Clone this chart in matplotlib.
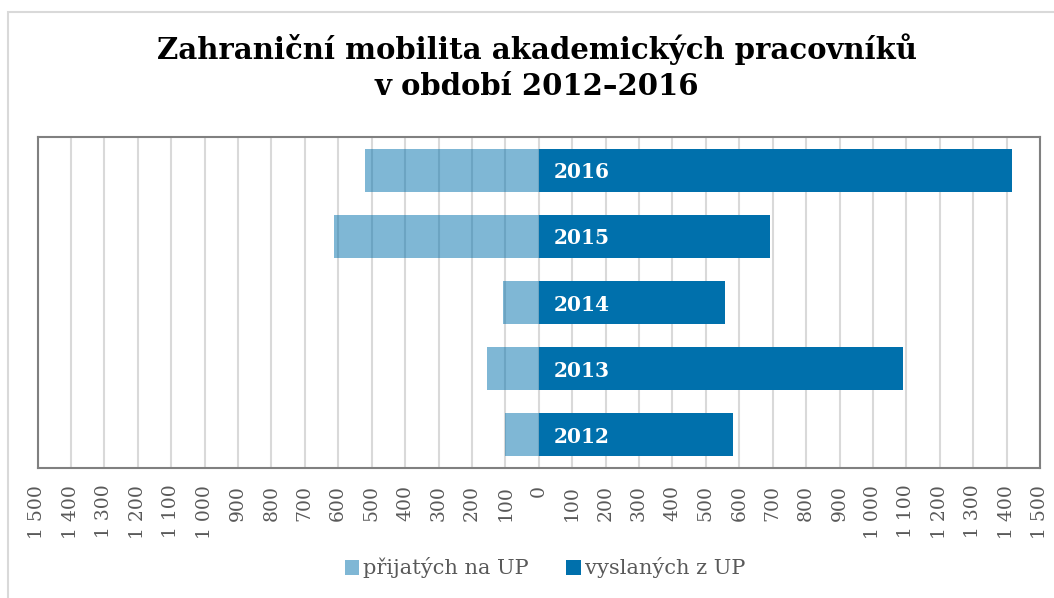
import matplotlib
matplotlib.use("Agg")
import matplotlib.pyplot as plt
from matplotlib.patches import Rectangle

years = ["2012", "2013", "2014", "2015", "2016"]
prijatych = [100, 154, 107, 614, 520]
vyslanych = [580, 1090, 558, 692, 1416]
tick_values = list(range(-1500, 1501, 100))
tick_labels = [f"{abs(v):,}".replace(",", " ") for v in tick_values]

dark = "#0070AC"
serif = ["DejaVu Serif"]

fig = plt.figure(figsize=(10.54, 5.98), dpi=100)
ax = fig.add_axes([37.5 / 1054, 1 - 468 / 598, (1040 - 37.5) / 1054, (468 - 137) / 598])

fig.patches.append(Rectangle((8 / 1054, -0.1), 1.2, 1 - 12 / 598 + 0.1, transform=fig.transFigure,
                             fill=False, edgecolor="#d9d9d9", linewidth=1.5))

ypos = list(range(len(years)))
ax.barh(ypos, [-v for v in prijatych], height=0.65, color=dark, alpha=0.5, zorder=3,
        label="přijatých na UP")
ax.barh(ypos, vyslanych, height=0.65, color=dark, zorder=3, label="vyslaných z UP")

for y, yr in zip(ypos, years):
    ax.annotate(yr, xy=(0, y), xytext=(11, -1.5), textcoords="offset points",
                ha="left", va="center", color="white", fontsize=14.5, fontweight="bold",
                family=serif, zorder=5)

ax.set_xlim(-1500, 1500)
ax.set_ylim(-0.5, len(years) - 0.5)
ax.set_xticks(tick_values)
ax.set_xticklabels(tick_labels, rotation=90, family=serif, fontsize=13.5, color="#595959")
ax.tick_params(axis="x", length=0, pad=12)
ax.set_yticks([])
ax.grid(axis="x", color="#d9d9d9", linewidth=1.5, zorder=0)
ax.set_axisbelow(True)
for s in ax.spines.values():
    s.set_color("#808080")
    s.set_linewidth(1.5)

fig.suptitle("Zahraniční mobilita akademických pracovníků\nv období 2012–2016",
             x=537 / 1054, y=1 - 33 / 598, va="top", fontsize=21, fontweight="bold",
             family=serif, linespacing=1.3)

leg = fig.legend(loc="center", bbox_to_anchor=(545 / 1054, 1 - 568 / 598), ncol=2, frameon=False,
                 prop={"family": serif, "size": 15}, handlelength=0.7, handleheight=0.7,
                 handletextpad=0.2, columnspacing=1.8)
for t in leg.get_texts():
    t.set_color("#595959")

fig.savefig("out.png", dpi=100)
